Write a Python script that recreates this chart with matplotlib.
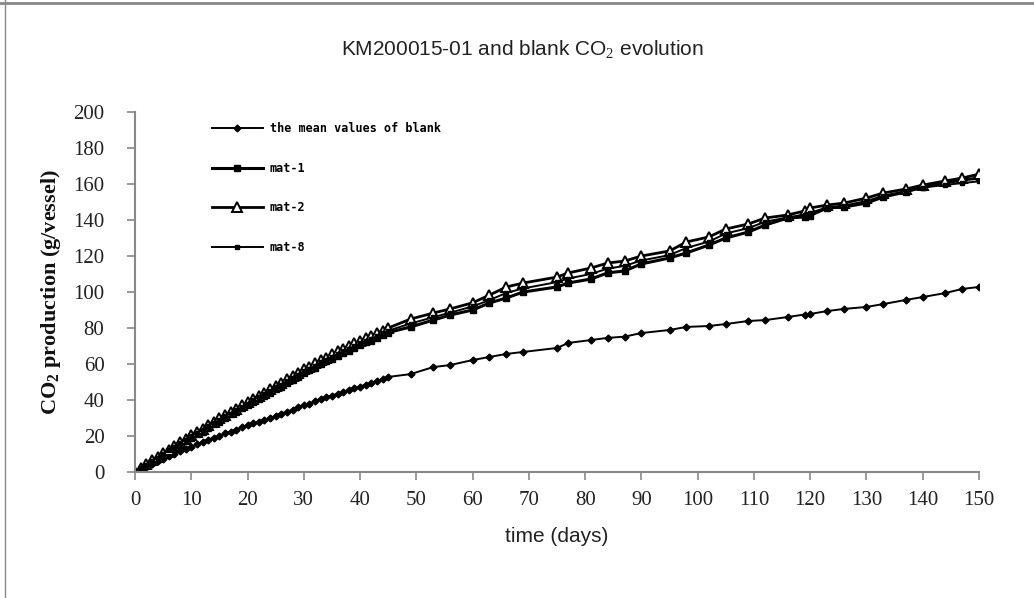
import matplotlib
matplotlib.use("Agg")
import matplotlib.pyplot as plt
from matplotlib.lines import Line2D

# sampling days: daily for the first 45 days, then the later measurement days
days_early = list(range(0, 46))
days_late = [49, 53, 56, 60, 63, 66, 69, 75, 77, 81, 84, 87, 90, 95, 98, 102, 105,
             109, 112, 116, 119, 120, 123, 126, 130, 133, 137, 140, 144, 147, 150]
days = days_early + days_late

blank = [0, 1.5, 3, 4.5, 6, 7.5, 9, 10, 11.5, 13, 14, 15.5, 16.5, 18, 19, 20,
         21.5, 22.5, 23.5, 25, 26, 27, 28, 29, 30, 31, 32.5, 33.5, 34.5, 36, 37,
         38, 39.5, 40.5, 41.5, 42.5, 43.5, 44.5, 45.5, 46.5, 47.5, 48.5, 49.5,
         50.5, 51.5, 52.8,
         54.4, 58.3, 59.4, 62.2, 63.9, 65.6, 66.7, 68.9, 71.7, 73.3, 74.5, 75.2,
         77.2, 78.9, 80.6, 81.1, 82.2, 83.9, 84.4, 86.1, 87.5, 87.8, 89.4, 90.6,
         91.7, 93.3, 95.6, 97.2, 99.4, 101.7, 102.8]

mat1 = [0, 1.5, 3.5, 5.5, 7.5, 9.5, 11.5, 13, 15, 17, 19, 21, 22.5, 24.5, 26.5,
        28, 30, 32, 33.5, 35.5, 37, 39, 40.5, 42.5, 44, 46, 47.5, 49.5, 51, 53,
        55, 56.5, 58, 60, 61.5, 63, 64.5, 66, 67.5, 69, 70.5, 72, 73, 74.5, 76,
        77.5,
        80.6, 84.4, 87.2, 90, 93.9, 96.7, 100, 102.8, 105, 107.2, 110.6, 111.7,
        115.6, 118.9, 121.7, 126.1, 130, 133.3, 137.2, 141.1, 141.7, 142.5,
        146.7, 147.2, 149.4, 152.8, 155.6, 158.3, 160.6, 162.2, 163.3]

mat2 = [0, 2, 4.5, 6.5, 8.5, 10.5, 12.5, 14.5, 16.5, 18.5, 20.5, 22.5, 24, 26,
        28, 30, 31.5, 33.5, 35, 37, 39, 40.5, 42.5, 44, 46, 48, 49.5, 51.5, 53.5,
        55, 57, 58.5, 60.5, 62, 63.5, 65.5, 67, 68.5, 70, 71.5, 73, 74.5, 75.5,
        77, 78.5, 80,
        85, 88.3, 90.6, 94, 98.3, 102.8, 105, 108.3, 110.6, 113.3, 116.1, 117.2,
        120, 122.8, 127.8, 130.6, 135, 137.8, 141.1, 142.8, 145, 146.7, 148.3,
        149.4, 152.2, 155, 157.2, 159.4, 161.7, 163.3, 165.5]

mat8 = [0, 2, 4, 6, 8, 10, 12, 14, 16, 18, 20, 21.5, 23.5, 25.5, 27, 29, 31,
        32.5, 34.5, 36, 38, 40, 41.5, 43.5, 45, 47, 48.5, 50.5, 52.5, 54, 56,
        57.5, 59, 61, 62.5, 64, 65.5, 67, 68.5, 70, 71.5, 73, 74, 75.5, 77, 78.5,
        82.5, 86, 88.5, 92, 95.5, 99.5, 102, 105.5, 107.5, 110, 113, 114.5,
        117.5, 120.5, 124.5, 128, 132.5, 135.5, 139, 141.5, 143, 144, 147, 148,
        150.5, 153.5, 156, 158, 159.5, 160.5, 161.5]

labels = ["the mean values of blank", "mat-1", "mat-2", "mat-8"]
xticks = list(range(0, 151, 10))
yticks = list(range(0, 201, 20))

plt.rcParams["mathtext.fontset"] = "custom"
plt.rcParams["mathtext.rm"] = "Liberation Serif"
plt.rcParams["mathtext.bf"] = "Liberation Serif:bold"

fig = plt.figure(figsize=(10.34, 5.98), dpi=100)
ax = fig.add_axes([135 / 1034, 1 - 472 / 598, 844 / 1034, 360 / 598])

ax.plot(days, blank, color="black", lw=1.4, marker="D", ms=3.5, label=labels[0])
ax.plot(days, mat1, color="black", lw=2.2, marker="s", ms=5, label=labels[1])
ax.plot(days, mat2, color="black", lw=2.0, marker="^", ms=7, mfc="white",
        mec="black", mew=1.4, label=labels[2])
ax.plot(days, mat8, color="black", lw=1.4, marker="s", ms=3, label=labels[3])

ax.set_xlim(0, 150)
ax.set_ylim(0, 200)
ax.set_xticks(xticks)
ax.set_yticks(yticks)

serif = ["Liberation Serif", "DejaVu Serif"]
sans = ["Liberation Sans", "DejaVu Sans"]
for lab in ax.get_xticklabels() + ax.get_yticklabels():
    lab.set_fontfamily(serif)
    lab.set_fontsize(15)
    lab.set_color("#222222")

ax.tick_params(axis="both", direction="out", length=6, color="#888888", width=1.2)
ax.tick_params(axis="y", pad=16)
ax.tick_params(axis="x", pad=8)
for side in ["top", "right"]:
    ax.spines[side].set_visible(False)
for side in ["left", "bottom"]:
    ax.spines[side].set_color("#888888")
    ax.spines[side].set_linewidth(1.5)

ax.set_xlabel("time (days)", family=sans, fontsize=15, color="#222222", labelpad=12)
ax.set_ylabel("CO$_\\mathbf{2}$ production (g/vessel)", family=serif, fontsize=16,
              weight="bold", color="#111111", labelpad=7)

fig.text(522 / 1034, 1 - 50 / 598, "KM200015-01 and blank CO$_2$ evolution",
         family=sans, fontsize=15, color="#222222", ha="center", va="center")

leg = ax.legend(loc="upper left", bbox_to_anchor=(0.091, 0.972), frameon=False,
                prop={"family": "DejaVu Sans Mono", "size": 8.5, "weight": "bold"},
                handlelength=4.3, handletextpad=0.6, labelspacing=2.25,
                borderpad=0, borderaxespad=0)

# grey border of the chart area
fig.add_artist(Line2D([0, 1], [1 - 2.5 / 598] * 2, color="#888888", lw=2))
fig.add_artist(Line2D([5 / 1034] * 2, [0, 1], color="#888888", lw=1))

fig.savefig("out.png", dpi=100)
